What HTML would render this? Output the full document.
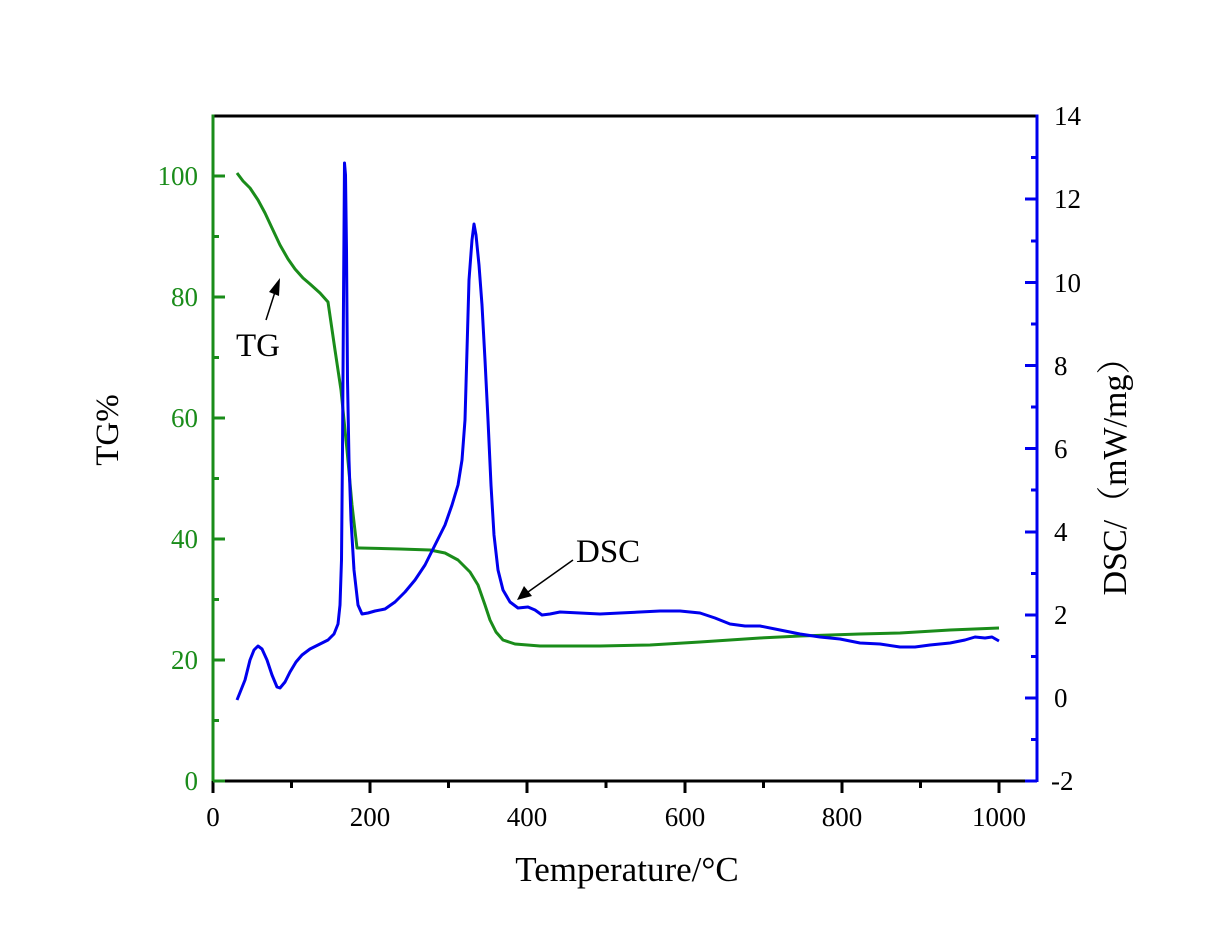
<!DOCTYPE html>
<html><head><meta charset="utf-8"><style>body{margin:0;background:#fff}svg{display:block}</style></head>
<body>
<svg width="1211" height="927" xmlns="http://www.w3.org/2000/svg" font-family="'Liberation Serif','Noto Serif CJK SC',serif">
<rect width="1211" height="927" fill="#fff"/>
<line x1="213" y1="116" x2="1037" y2="116" stroke="#000" stroke-width="3"/>
<line x1="213" y1="781" x2="1037" y2="781" stroke="#000" stroke-width="3"/>
<line x1="213" y1="114.5" x2="213" y2="782" stroke="#1a8c1a" stroke-width="3"/>
<line x1="1037" y1="114.5" x2="1037" y2="782" stroke="#0000ee" stroke-width="3"/>
<g stroke="#000" stroke-width="3">
<line x1="213" y1="781" x2="213" y2="793"/><line x1="370" y1="781" x2="370" y2="793"/><line x1="527" y1="781" x2="527" y2="793"/><line x1="685" y1="781" x2="685" y2="793"/><line x1="842" y1="781" x2="842" y2="793"/><line x1="999" y1="781" x2="999" y2="793"/>
<line x1="291.5" y1="781" x2="291.5" y2="788"/><line x1="448.5" y1="781" x2="448.5" y2="788"/><line x1="606" y1="781" x2="606" y2="788"/><line x1="763.5" y1="781" x2="763.5" y2="788"/><line x1="920.5" y1="781" x2="920.5" y2="788"/>
</g>
<g font-size="27" text-anchor="middle" fill="#000">
<text x="213" y="826">0</text><text x="370" y="826">200</text><text x="527" y="826">400</text><text x="685" y="826">600</text><text x="842" y="826">800</text><text x="999" y="826">1000</text>
</g>
<g stroke="#1a8c1a" stroke-width="3">
<line x1="213" y1="781" x2="225" y2="781"/><line x1="213" y1="660" x2="225" y2="660"/><line x1="213" y1="539" x2="225" y2="539"/><line x1="213" y1="418" x2="225" y2="418"/><line x1="213" y1="297" x2="225" y2="297"/><line x1="213" y1="176" x2="225" y2="176"/>
<line x1="213" y1="720.5" x2="219" y2="720.5"/><line x1="213" y1="599.5" x2="219" y2="599.5"/><line x1="213" y1="478.5" x2="219" y2="478.5"/><line x1="213" y1="357.5" x2="219" y2="357.5"/><line x1="213" y1="236.5" x2="219" y2="236.5"/>
</g>
<g font-size="27" text-anchor="end" fill="#1a8c1a">
<text x="198" y="790">0</text><text x="198" y="669">20</text><text x="198" y="548">40</text><text x="198" y="427">60</text><text x="198" y="306">80</text><text x="198" y="185">100</text>
</g>
<g stroke="#0000ee" stroke-width="3">
<line x1="1025" y1="781" x2="1037" y2="781"/><line x1="1025" y1="698" x2="1037" y2="698"/><line x1="1025" y1="615" x2="1037" y2="615"/><line x1="1025" y1="532" x2="1037" y2="532"/><line x1="1025" y1="448.5" x2="1037" y2="448.5"/><line x1="1025" y1="365.5" x2="1037" y2="365.5"/><line x1="1025" y1="282.5" x2="1037" y2="282.5"/><line x1="1025" y1="199" x2="1037" y2="199"/>
<line x1="1031" y1="739.5" x2="1037" y2="739.5"/><line x1="1031" y1="656.5" x2="1037" y2="656.5"/><line x1="1031" y1="573.5" x2="1037" y2="573.5"/><line x1="1031" y1="490" x2="1037" y2="490"/><line x1="1031" y1="407" x2="1037" y2="407"/><line x1="1031" y1="324" x2="1037" y2="324"/><line x1="1031" y1="241" x2="1037" y2="241"/><line x1="1031" y1="157.5" x2="1037" y2="157.5"/>
</g>
<g font-size="27" fill="#000">
<text x="1051" y="790">-2</text><text x="1054" y="707">0</text><text x="1054" y="624">2</text><text x="1054" y="541">4</text><text x="1054" y="458">6</text><text x="1054" y="375">8</text><text x="1054" y="292">10</text><text x="1054" y="208">12</text><text x="1054" y="125">14</text>
</g>
<text x="627" y="881" font-size="35" text-anchor="middle">Temperature/°C</text>
<text transform="translate(118,430) rotate(-90)" font-size="33" text-anchor="middle">TG%</text>
<text transform="translate(1126,468) rotate(-90)" font-size="34" text-anchor="middle">DSC/（mW/mg）</text>
<polyline fill="none" stroke="#1a8c1a" stroke-width="3" stroke-linejoin="round" points="237,173 243,181 250,188 258,200 265,213 272,228 280,245 288,259 295,269 303,278 310,284 320,293 328,302 335,350 341,390 347,450 352,505 357,548 360,548 400,549 430,550 445,553 458,560 470,572 478,585 485,605 490,620 496,632 503,640 515,644 540,646 600,646 650,645 700,642 760,638 800,636 860,634 900,633 950,630 999,628"/>
<polyline fill="none" stroke="#0000ee" stroke-width="3" stroke-linejoin="round" points="237,700 241,690 245,680 250,660 254,650 258,646 262,649 267,660 272,675 277,687 280,688 285,682 290,672 296,662 302,655 310,649 320,644 328,640 334,634 338,624 340,605 341.5,560 342.5,450 343.5,300 344.5,163 345.5,175 346.5,250 347.5,380 349,460 351,520 354,570 358,605 362,614 368,613 375,611 385,609 395,602 405,592 415,580 425,565 435,545 445,525 452,505 458,485 462,460 465,420 467,350 469,280 472,240 474,224 476,235 479,265 482,305 485,360 488,420 491,485 494,535 498,570 503,590 510,602 518,608 528,607 535,610 542,615 550,614 560,612 580,613 600,614 620,613 640,612 660,611 680,611 700,613 715,618 730,624 745,626 760,626 780,630 800,634 820,637 840,639 860,643 880,644 900,647 915,647 930,645 950,643 965,640 975,637 985,638 992,637 999,641"/>
<text x="236" y="356" font-size="33">TG</text>
<line x1="266" y1="320" x2="275" y2="292" stroke="#000" stroke-width="1.5"/>
<polygon points="280,278 269,292 279,296" fill="#000"/>
<text x="576" y="562" font-size="33">DSC</text>
<line x1="573" y1="560" x2="528" y2="592" stroke="#000" stroke-width="1.5"/>
<polygon points="517,600 524,586 532,596" fill="#000"/>
</svg>
</body></html>
